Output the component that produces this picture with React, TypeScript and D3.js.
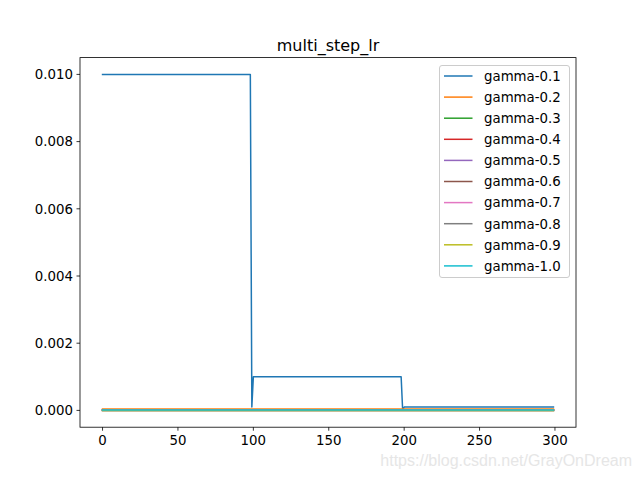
import React from "react";
import * as d3 from "d3";

const title = "multi_step_lr";
const epochCount = 300;
const seriesNames = ["gamma-0.1","gamma-0.2","gamma-0.3","gamma-0.4","gamma-0.5","gamma-0.6","gamma-0.7","gamma-0.8","gamma-0.9","gamma-1.0"];
const colors = ["#1f77b4","#ff7f0e","#2ca02c","#d62728","#9467bd","#8c564b","#e377c2","#7f7f7f","#bcbd22","#17becf"];
// run-length segments: [start epoch, lr value]
const runs01: [number, number][] = [[0, 0.01],[99, 0.0001],[100, 0.001],[199, 0.00001],[200, 0.0001]];
const runs02: [number, number][] = [[0, 0.00004]];
const runs03: [number, number][] = [[0, 0.00002]];
const runs04: [number, number][] = [[0, 0.00001]];
const runs05: [number, number][] = [[0, 0.000005]];
const runs06: [number, number][] = [[0, 0.0]];
const runs07: [number, number][] = [[0, 0.00001]];
const runs08: [number, number][] = [[0, 0.0]];
const runs09: [number, number][] = [[0, 0.0]];
const runs10: [number, number][] = [[0, 0.00001]];
const allRuns = [runs01,runs02,runs03,runs04,runs05,runs06,runs07,runs08,runs09,runs10];
const xTicks = [0,50,100,150,200,250,300];
const yTicks = [0,0.002,0.004,0.006,0.008,0.01];
const watermark = "https://blog.csdn.net/GrayOnDream";

function expand(r: [number, number][]): [number, number][] {
  const out: [number, number][] = [];
  for (let e = 0; e < epochCount; e++) {
    let v = r[0][1];
    for (const [s, val] of r) if (e >= s) v = val;
    out.push([e, v]);
  }
  return out;
}

export default function App() {
  const W = 640, H = 480;
  const L = 80, R = 576, T = 57.6, B = 427.2;
  const x = d3.scaleLinear().domain([-14.95, 313.95]).range([L, R]);
  const y = d3.scaleLinear().domain([-0.0005, 0.0105]).range([B, T]);
  const line = d3.line<[number, number]>().x(d => x(d[0])).y(d => y(d[1]));
  const font = "DejaVu Sans, sans-serif";
  const lx = 439.5, ly = 65.5, lw = 130, lh = 212;
  return (
    <svg width={W} height={H} style={{position:"absolute", left:0, top:0}} fontFamily={font}>
      <rect width={W} height={H} fill="#fff" />
      <text x={(L+R)/2} y={T-7} textAnchor="middle" fontSize={16}>{title}</text>
      {allRuns.map((r, i) => (
        <path key={i} d={line(expand(r)) || ""} fill="none" stroke={colors[i]} strokeWidth={1.5} strokeLinejoin="round" strokeLinecap="square" />
      ))}
      <rect x={L} y={T} width={R-L} height={B-T} fill="none" stroke="#000" strokeWidth={0.8} />
      {xTicks.map(t => (
        <g key={t}>
          <line x1={x(t)} x2={x(t)} y1={B} y2={B+3.5} stroke="#000" strokeWidth={0.8} />
          <text x={x(t)} y={B+18} textAnchor="middle" fontSize={13.33}>{t}</text>
        </g>
      ))}
      {yTicks.map(t => (
        <g key={t}>
          <line x1={L-3.5} x2={L} y1={y(t)} y2={y(t)} stroke="#000" strokeWidth={0.8} />
          <text x={L-7} y={y(t)+4.8} textAnchor="end" fontSize={13.33}>{t.toFixed(3)}</text>
        </g>
      ))}
      <rect x={lx} y={ly} width={lw} height={lh} rx={2.5} fill="#fff" fillOpacity={0.8} stroke="#cccccc" strokeWidth={1} />
      {seriesNames.map((n, i) => {
        const yy = 76 + i * 21.1;
        return (
          <g key={n}>
            <line x1={444} x2={472.5} y1={yy} y2={yy} stroke={colors[i]} strokeWidth={1.5} />
            <text x={484} y={yy+4.8} fontSize={13.33}>{n}</text>
          </g>
        );
      })}
      <text x={632} y={466} textAnchor="end" fontSize={16} fill="#e6e6e6" fontFamily="Liberation Sans, Arial, sans-serif">{watermark}</text>
    </svg>
  );
}
